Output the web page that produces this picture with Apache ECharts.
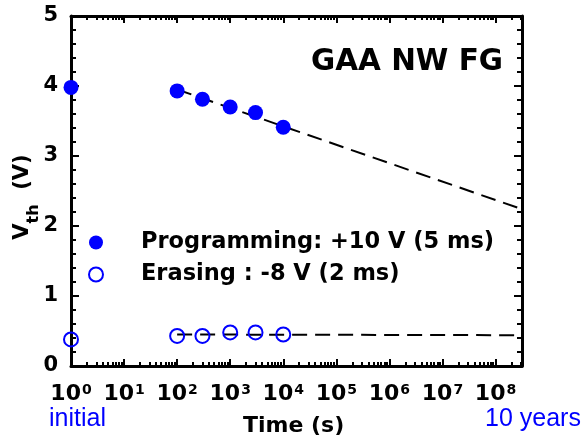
<!DOCTYPE html>
<html>
<head>
<meta charset="utf-8">
<script src="https://cdn.jsdelivr.net/npm/echarts@6/dist/echarts.min.js"></script>
<style>
  html, body { margin: 0; padding: 0; background: #fff; }
  #chart { width: 587px; height: 443px; }
</style>
</head>
<body>
<div id="chart"></div>
<script>
// Retention data: threshold voltage vs. time (s); t = 1 s is the initial state
const times = [1, 100, 300, 1000, 3000, 10000];
const progVth = [3.98, 3.93, 3.81, 3.70, 3.62, 3.41];
const eraseVth = [0.38, 0.43, 0.43, 0.48, 0.48, 0.45];

// Extrapolated trend lines, from 100 s out to 10 years
const fitTimes = [100, 3.1536e8];
const progFit = [3.95, 2.24];
const eraseFit = [0.45, 0.44];

// Axis ticks
const decadeTicks = [1, 1e1, 1e2, 1e3, 1e4, 1e5, 1e6, 1e7, 1e8];
const minorTicks = [];
for (let d = 0; d < 9; d++) {
  for (let m = 2; m <= 9; m++) {
    const v = m * Math.pow(10, d);
    if (v < 3.1536e8) minorTicks.push(v);
  }
}
const yTicks = [0, 1, 2, 3, 4, 5];

const progName = 'Programming: +10 V (5 ms)';
const eraseName = 'Erasing : -8 V (2 ms)';
const BLUE = '#0000ff';
const BOLD_FONT = 'DejaVu Sans, Verdana, sans-serif';
const FONT = 'Liberation Sans, Arial, Helvetica, sans-serif';

const pairs = (xs, ys) => xs.map((x, i) => [x, ys[i]]);

function xAxisDef(pos, ticks, len, showLabel, showLine) {
  return {
    type: 'log',
    logBase: 10,
    position: pos,
    min: 1,
    max: 3.1536e8,
    splitLine: { show: false },
    axisLine: { show: showLine, onZero: false, lineStyle: { color: '#000', width: 3 } },
    axisTick: {
      show: true, inside: true, length: len,
      customValues: ticks,
      lineStyle: { color: '#000', width: 2 }
    },
    axisLabel: showLabel ? {
      show: true,
      customValues: decadeTicks,
      margin: 17,
      fontFamily: BOLD_FONT,
      fontWeight: 'bold',
      fontSize: 22,
      color: '#000',
      formatter: v => '10{sup|' + Math.round(Math.log10(v)) + '}',
      rich: {
        sup: { fontSize: 14, fontWeight: 'bold', fontFamily: BOLD_FONT, color: '#000', verticalAlign: 'top', padding: [0, 0, 0, 1] }
      }
    } : { show: false }
  };
}

function yAxisDef(pos, showLabel) {
  return {
    type: 'value',
    position: pos,
    min: 0,
    max: 5,
    interval: 1,
    splitLine: { show: false },
    axisLine: { show: true, lineStyle: { color: '#000', width: 3 } },
    axisTick: { show: true, inside: true, length: 8, lineStyle: { color: '#000', width: 2 } },
    minorTick: { show: true, splitNumber: 5, length: 5, lineStyle: { color: '#000', width: 2 } },
    axisLabel: showLabel ? {
      show: true, margin: 13, fontFamily: BOLD_FONT, fontWeight: 'bold', fontSize: 21, color: '#000',
      formatter: v => (yTicks.indexOf(v) >= 0 ? String(v) : '')
    } : { show: false }
  };
}

const chart = echarts.init(document.getElementById('chart'), null, { renderer: 'canvas' });

chart.setOption({
  animation: false,
  backgroundColor: '#fff',
  grid: { left: 71, right: 65, top: 16, bottom: 77, containLabel: false, outerBoundsMode: 'none' },
  xAxis: [
    xAxisDef('bottom', decadeTicks, 7, true, true),
    xAxisDef('bottom', minorTicks, 4, false, false),
    xAxisDef('top', decadeTicks, 7, false, true),
    xAxisDef('top', minorTicks, 4, false, false)
  ],
  yAxis: [
    yAxisDef('left', true),
    yAxisDef('right', false)
  ],
  legend: {
    orient: 'vertical',
    left: 83,
    top: 226,
    itemWidth: 14,
    itemHeight: 14,
    itemGap: 9,
    textStyle: { fontFamily: BOLD_FONT, fontWeight: 'bold', fontSize: 22.5, color: '#000', padding: [0, 0, 0, 33] },
    data: [
      { name: progName, icon: 'circle', itemStyle: { color: BLUE, borderWidth: 0 } },
      { name: eraseName, icon: 'circle', itemStyle: { color: '#fff', borderColor: BLUE, borderWidth: 2 } }
    ]
  },
  graphic: [
    {
      // y-axis title, rotated to read bottom-to-top
      type: 'text', x: 27, y: 197, rotation: Math.PI / 2,
      style: {
        text: '{b|V}{sub|th}{b|  (V)}',
        align: 'center', verticalAlign: 'middle',
        rich: {
          sub: { fontFamily: BOLD_FONT, fontWeight: 'bold', fontSize: 16, fill: '#000', verticalAlign: 'bottom', lineHeight: 30 },
          b: { fontFamily: BOLD_FONT, fontWeight: 'bold', fontSize: 21, fill: '#000', verticalAlign: 'top', lineHeight: 24 }
        }
      }
    },
    {
      type: 'text', right: 84, top: 47,
      style: { text: 'GAA NW FG', font: 'bold 29.5px ' + BOLD_FONT, fill: '#000' }
    },
    {
      type: 'text', left: 49, top: 407,
      style: { text: 'initial', font: '25px ' + FONT, fill: BLUE }
    },
    {
      type: 'text', left: 485, top: 407,
      style: { text: '10 years', font: '25px ' + FONT, fill: BLUE }
    },
    {
      type: 'text', left: 243, top: 415,
      style: { text: 'Time (s)', font: 'bold 22px ' + BOLD_FONT, fill: '#000' }
    }
  ],
  series: [
    {
      name: 'progFit', type: 'line', xAxisIndex: 0, yAxisIndex: 0,
      data: pairs(fitTimes, progFit), symbol: 'none', silent: true, z: 1,
      lineStyle: { color: '#000', width: 2, type: [15, 8] }
    },
    {
      name: 'eraseFit', type: 'line', xAxisIndex: 0, yAxisIndex: 0,
      data: pairs(fitTimes, eraseFit), symbol: 'none', silent: true, z: 1,
      lineStyle: { color: '#000', width: 2, type: [15, 8] }
    },
    {
      name: progName, type: 'scatter', xAxisIndex: 0, yAxisIndex: 0,
      data: pairs(times, progVth), symbol: 'circle', symbolSize: 15, clip: false, z: 3,
      itemStyle: { color: BLUE, opacity: 1 }
    },
    {
      name: eraseName, type: 'scatter', xAxisIndex: 0, yAxisIndex: 0,
      data: pairs(times, eraseVth), symbol: 'circle', symbolSize: 14, clip: false, z: 3,
      itemStyle: { color: 'rgba(255,255,255,0)', borderColor: BLUE, borderWidth: 2, opacity: 1 }
    }
  ]
});
</script>
</body>
</html>
